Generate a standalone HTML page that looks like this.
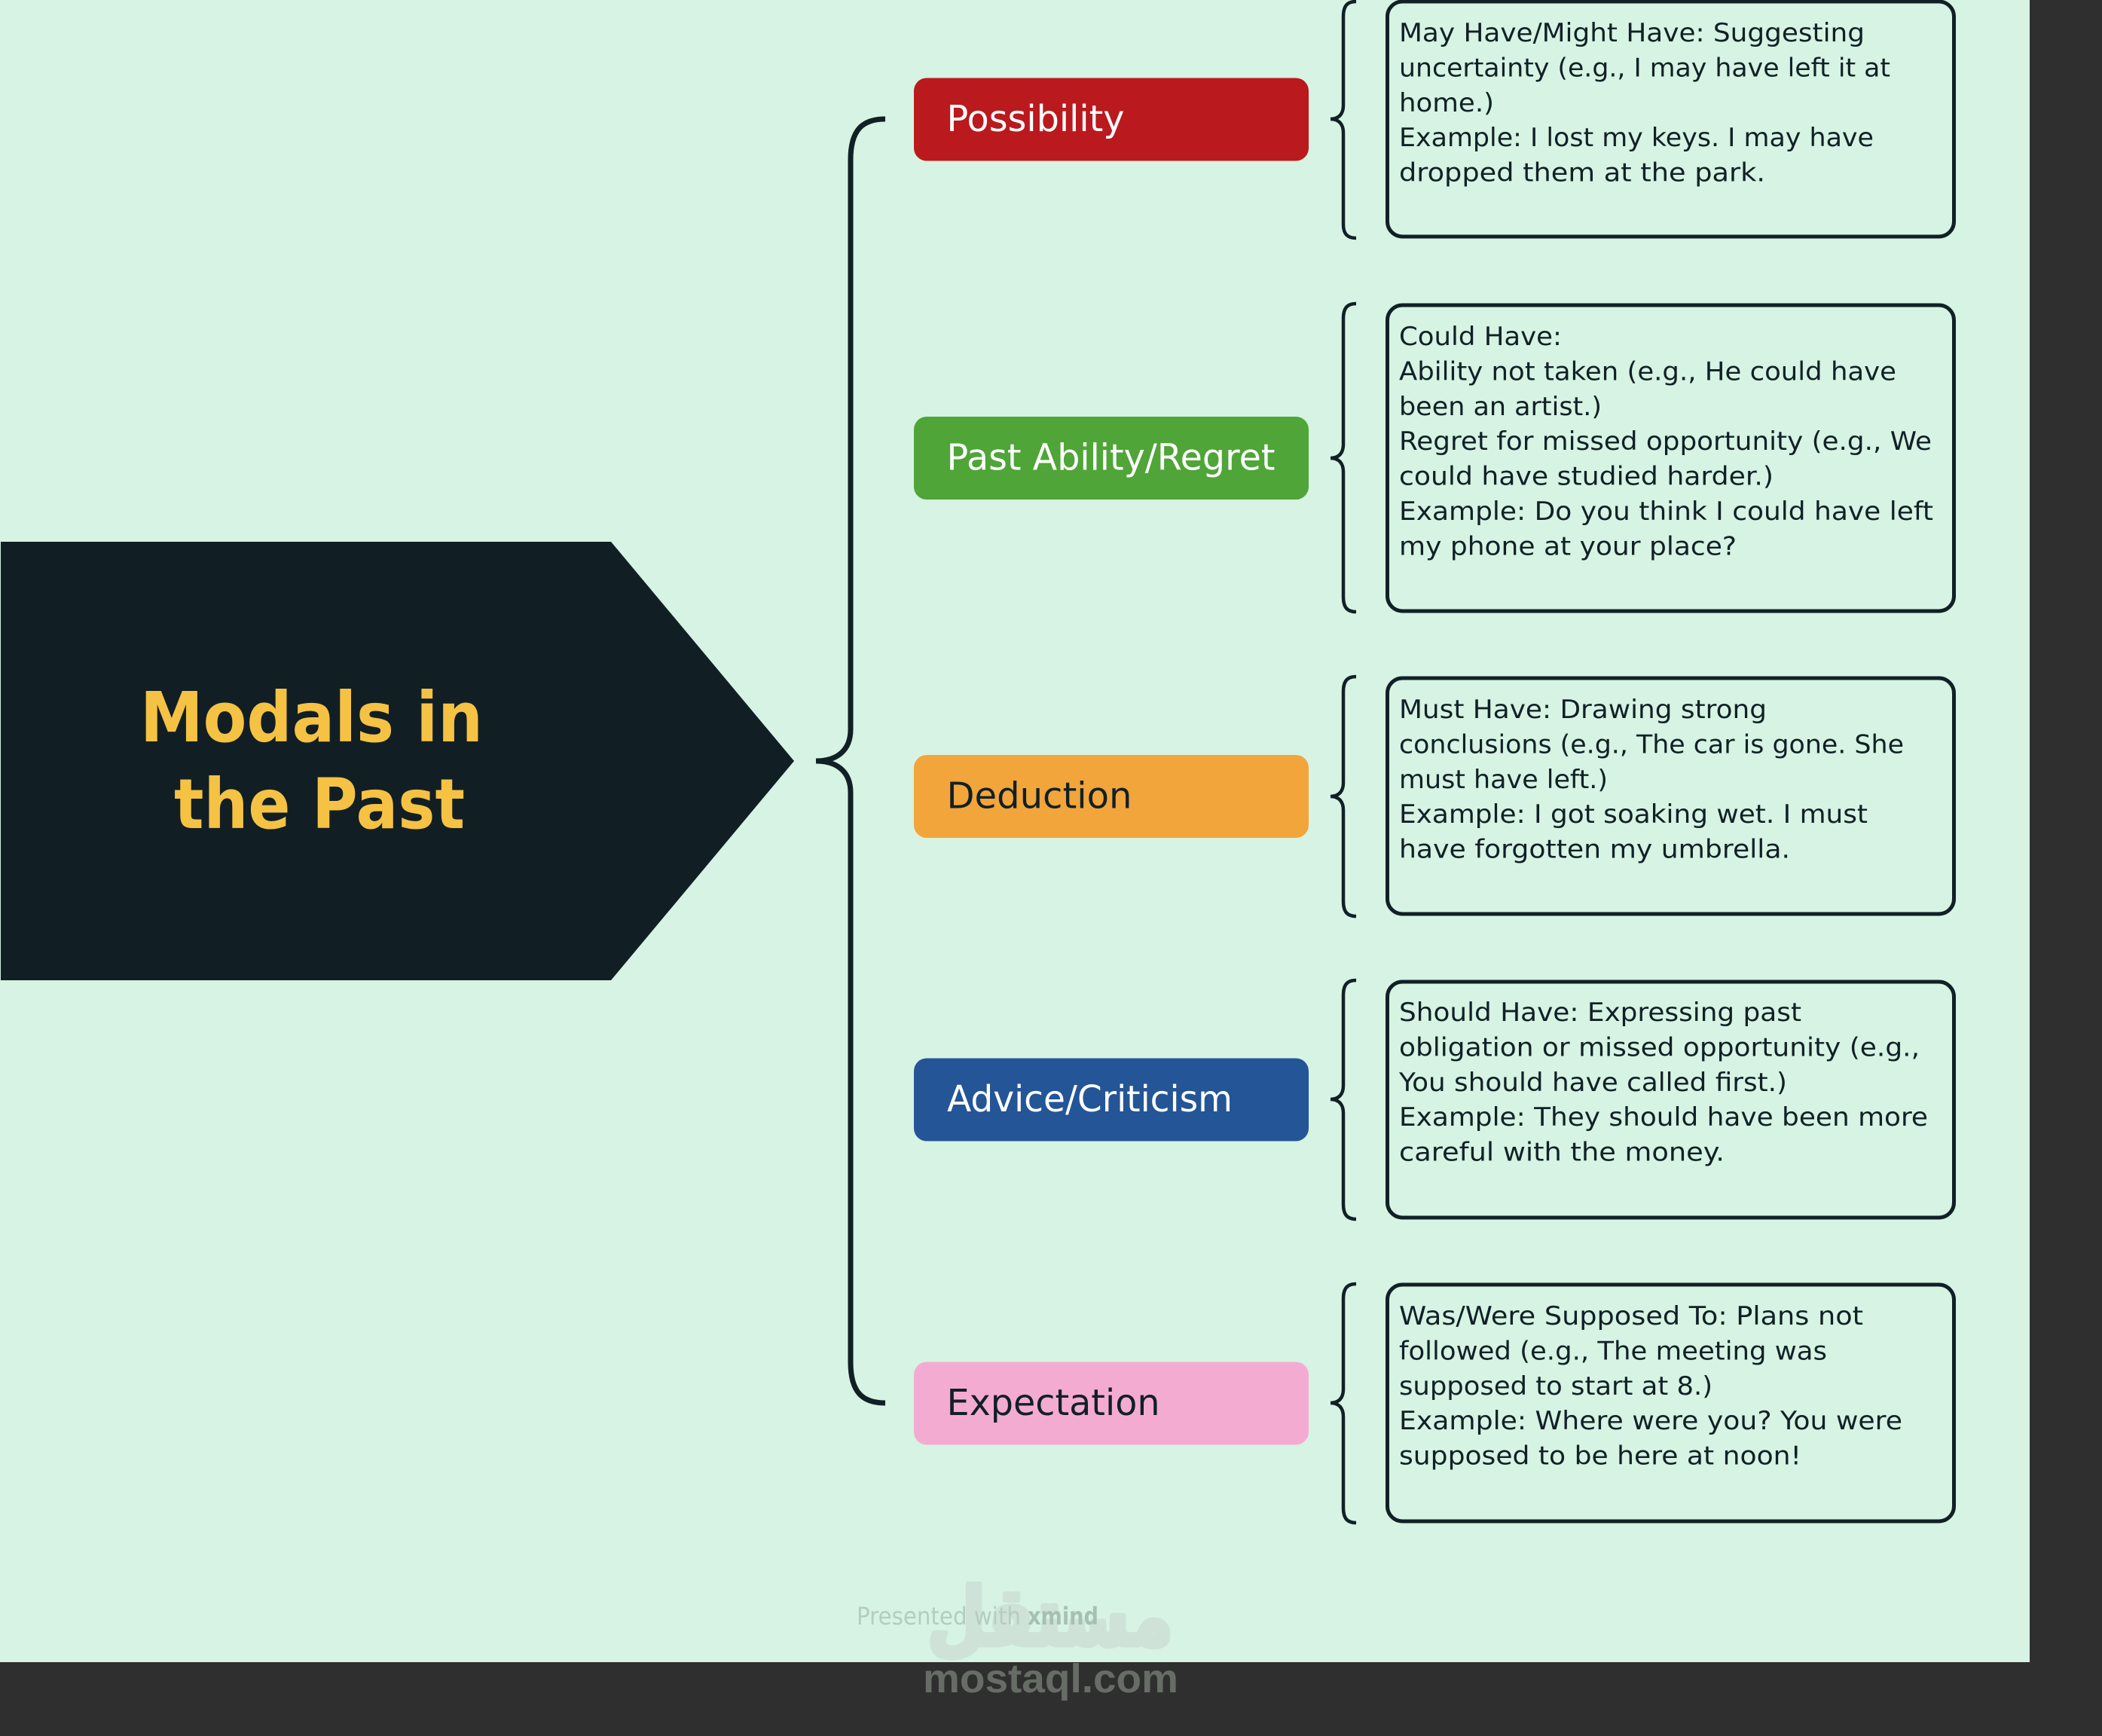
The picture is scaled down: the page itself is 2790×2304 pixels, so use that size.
<!DOCTYPE html>
<html lang="en">
<head>
<meta charset="utf-8">
<title>Modals in the Past</title>
<style>
html,body{margin:0;padding:0;background:#d6f3e3;}
svg{display:block;}
.n{font-family:"DejaVu Sans","Liberation Sans",sans-serif;font-size:34px;fill:#112026;}
.t{font-family:"DejaVu Sans","Liberation Sans",sans-serif;font-size:48px;}
.b{fill:none;stroke:#112026;stroke-width:4.5;}
.r{fill:#d6f3e3;stroke:#112026;stroke-width:5;}
</style>
</head>
<body>
<svg xmlns="http://www.w3.org/2000/svg" width="2790" height="2304" viewBox="0 0 2790 2304">
<rect x="0" y="0" width="2790" height="2304" fill="#d6f3e3"/>

<!-- watermark logo -->
<text x="1394" y="2183" text-anchor="middle" textLength="326" lengthAdjust="spacingAndGlyphs" font-family="'DejaVu Sans',sans-serif" font-weight="700" font-size="106" fill="#cee2d7" stroke="#cee2d7" stroke-width="7" stroke-linejoin="round" direction="rtl">مستقل</text>

<!-- central topic -->
<polygon points="1,719 811,719 1054,1010 811,1301 1,1301" fill="#111f25"/>
<text x="186" y="984" font-family="'DejaVu Sans',sans-serif" font-weight="700" font-size="92" fill="#f5c244" textLength="455" lengthAdjust="spacingAndGlyphs">Modals in</text>
<text x="231" y="1099" font-family="'DejaVu Sans',sans-serif" font-weight="700" font-size="92" fill="#f5c244" textLength="386" lengthAdjust="spacingAndGlyphs">the Past</text>

<!-- big brace -->
<path d="M1175 158 C1145 158 1129 172 1129 212 L1129 968 C1129 995 1112 1010 1083 1010 M1083 1010 C1112 1010 1129 1025 1129 1052 L1129 1808 C1129 1848 1145 1862 1175 1862" fill="none" stroke="#112026" stroke-width="7"/>

<!-- topics -->
<rect x="1213" y="103.5" width="524" height="110" rx="17" fill="#ba191e"/>
<text class="t" x="1256.5" y="174" fill="#fff" textLength="236" lengthAdjust="spacingAndGlyphs">Possibility</text>
<rect x="1213" y="553" width="524" height="110" rx="17" fill="#4fa537"/>
<text class="t" x="1256.5" y="623.5" fill="#fff" textLength="436" lengthAdjust="spacingAndGlyphs">Past Ability/Regret</text>
<rect x="1213" y="1002" width="524" height="110" rx="17" fill="#f2a53a"/>
<text class="t" x="1256.5" y="1072.5" fill="#112026" textLength="246" lengthAdjust="spacingAndGlyphs">Deduction</text>
<rect x="1213" y="1404.5" width="524" height="110" rx="17" fill="#245596"/>
<text class="t" x="1257" y="1475" fill="#fff" textLength="379" lengthAdjust="spacingAndGlyphs">Advice/Criticism</text>
<rect x="1213" y="1807.5" width="524" height="110" rx="17" fill="#f4abd2"/>
<text class="t" x="1256.5" y="1878" fill="#112026" textLength="283" lengthAdjust="spacingAndGlyphs">Expectation</text>

<!-- small braces -->
<path class="b" d="M1800 2 C1788 2 1783 8 1783 22 L1783 140 C1783 150 1778 158 1766 158 M1766 158 C1778 158 1783 166 1783 176 L1783 298 C1783 310 1788 316 1800 316"/>
<path class="b" d="M1800 403 C1788 403 1783 409 1783 423 L1783 590 C1783 600 1778 608 1766 608 M1766 608 C1778 608 1783 616 1783 626 L1783 792 C1783 806 1788 812 1800 812"/>
<path class="b" d="M1800 898 C1788 898 1783 904 1783 918 L1783 1039 C1783 1049 1778 1057 1766 1057 M1766 1057 C1778 1057 1783 1065 1783 1075 L1783 1196 C1783 1210 1788 1216 1800 1216"/>
<path class="b" d="M1800 1301 C1788 1301 1783 1307 1783 1321 L1783 1441 C1783 1451 1778 1459 1766 1459 M1766 1459 C1778 1459 1783 1467 1783 1477 L1783 1598 C1783 1612 1788 1618 1800 1618"/>
<path class="b" d="M1800 1704 C1788 1704 1783 1710 1783 1724 L1783 1844 C1783 1854 1778 1862 1766 1862 M1766 1862 C1778 1862 1783 1870 1783 1880 L1783 2001 C1783 2015 1788 2021 1800 2021"/>

<!-- note boxes -->
<rect class="r" x="1841.5" y="2" width="752" height="312" rx="20"/>
<rect class="r" x="1841.5" y="405" width="752" height="406" rx="20"/>
<rect class="r" x="1841.5" y="900" width="752" height="313" rx="20"/>
<rect class="r" x="1841.5" y="1303" width="752" height="313" rx="20"/>
<rect class="r" x="1841.5" y="1705" width="752" height="314" rx="20"/>

<!-- note text 1 -->
<text class="n" x="1857" y="55" textLength="618" lengthAdjust="spacingAndGlyphs">May Have/Might Have: Suggesting</text>
<text class="n" x="1857" y="101.5" textLength="652" lengthAdjust="spacingAndGlyphs">uncertainty (e.g., I may have left it at</text>
<text class="n" x="1857" y="148" textLength="126" lengthAdjust="spacingAndGlyphs">home.)</text>
<text class="n" x="1857" y="194" textLength="630" lengthAdjust="spacingAndGlyphs">Example: I lost my keys. I may have</text>
<text class="n" x="1857" y="240.5" textLength="486" lengthAdjust="spacingAndGlyphs">dropped them at the park.</text>

<!-- note text 2 -->
<text class="n" x="1857" y="458" textLength="216" lengthAdjust="spacingAndGlyphs">Could Have:</text>
<text class="n" x="1857" y="504.5" textLength="660" lengthAdjust="spacingAndGlyphs">Ability not taken (e.g., He could have</text>
<text class="n" x="1857" y="551" textLength="269" lengthAdjust="spacingAndGlyphs">been an artist.)</text>
<text class="n" x="1857" y="597" textLength="707" lengthAdjust="spacingAndGlyphs">Regret for missed opportunity (e.g., We</text>
<text class="n" x="1857" y="643.5" textLength="497" lengthAdjust="spacingAndGlyphs">could have studied harder.)</text>
<text class="n" x="1857" y="690" textLength="709" lengthAdjust="spacingAndGlyphs">Example: Do you think I could have left</text>
<text class="n" x="1857" y="736.5" textLength="448" lengthAdjust="spacingAndGlyphs">my phone at your place?</text>

<!-- note text 3 -->
<text class="n" x="1857" y="953" textLength="488" lengthAdjust="spacingAndGlyphs">Must Have: Drawing strong</text>
<text class="n" x="1857" y="999.5" textLength="670" lengthAdjust="spacingAndGlyphs">conclusions (e.g., The car is gone. She</text>
<text class="n" x="1857" y="1046" textLength="277" lengthAdjust="spacingAndGlyphs">must have left.)</text>
<text class="n" x="1857" y="1092" textLength="622" lengthAdjust="spacingAndGlyphs">Example: I got soaking wet. I must</text>
<text class="n" x="1857" y="1138.5" textLength="519" lengthAdjust="spacingAndGlyphs">have forgotten my umbrella.</text>

<!-- note text 4 -->
<text class="n" x="1857" y="1355" textLength="534" lengthAdjust="spacingAndGlyphs">Should Have: Expressing past</text>
<text class="n" x="1857" y="1401.5" textLength="691" lengthAdjust="spacingAndGlyphs">obligation or missed opportunity (e.g.,</text>
<text class="n" x="1857" y="1448" textLength="515" lengthAdjust="spacingAndGlyphs">You should have called first.)</text>
<text class="n" x="1857" y="1494" textLength="702" lengthAdjust="spacingAndGlyphs">Example: They should have been more</text>
<text class="n" x="1857" y="1540.5" textLength="432" lengthAdjust="spacingAndGlyphs">careful with the money.</text>

<!-- note text 5 -->
<text class="n" x="1857" y="1758" textLength="616" lengthAdjust="spacingAndGlyphs">Was/Were Supposed To: Plans not</text>
<text class="n" x="1857" y="1804.5" textLength="568" lengthAdjust="spacingAndGlyphs">followed (e.g., The meeting was</text>
<text class="n" x="1857" y="1851" textLength="416" lengthAdjust="spacingAndGlyphs">supposed to start at 8.)</text>
<text class="n" x="1857" y="1897" textLength="668" lengthAdjust="spacingAndGlyphs">Example: Where were you? You were</text>
<text class="n" x="1857" y="1943.5" textLength="534" lengthAdjust="spacingAndGlyphs">supposed to be here at noon!</text>

<!-- footer -->
<text x="1137" y="2156" font-family="'DejaVu Sans',sans-serif" font-size="32" fill="#b5cdc0" textLength="218" lengthAdjust="spacingAndGlyphs">Presented with</text>
<text x="1364" y="2156" font-family="'DejaVu Sans',sans-serif" font-weight="700" font-size="32" fill="#a8c0b3" textLength="94" lengthAdjust="spacingAndGlyphs">xmind</text>

<!-- dark frame -->
<rect x="2694" y="0" width="96" height="2304" fill="#2f2f2f"/>
<rect x="0" y="2206" width="2790" height="98" fill="#2f2f2f"/>

<text x="1225" y="2246" font-family="'Liberation Sans',Arial,sans-serif" font-weight="700" font-size="54" fill="#676c66" textLength="339" lengthAdjust="spacingAndGlyphs">mostaql.com</text>
</svg>
</body>
</html>
